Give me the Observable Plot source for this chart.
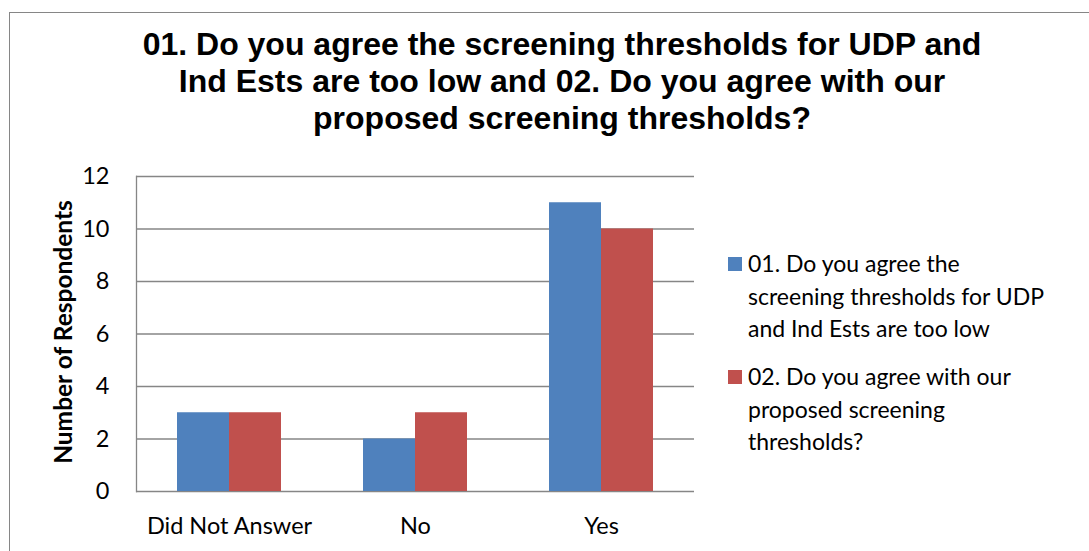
<!DOCTYPE html>
<html>
<head>
<meta charset="utf-8">
<script src="https://cdn.jsdelivr.net/npm/d3@7"></script>
<script src="https://cdn.jsdelivr.net/npm/@observablehq/plot@0.6"></script>
<style>
  html, body { margin: 0; padding: 0; background: #fff; }
  #chart { position: relative; width: 1089px; height: 551px; overflow: hidden; background: #fff; }
  #border { position: absolute; left: 9px; top: 12px; width: 1200px; height: 700px;
            border-top: 1px solid #868686; border-left: 1px solid #868686; }
  #title { position: absolute; left: 62px; width: 1000px; top: 26px; text-align: center;
           font-family: "Liberation Sans", Arial, sans-serif; font-weight: bold;
           font-size: 32px; line-height: 37px; color: #000; white-space: nowrap; }
  #plot { position: absolute; left: 0; top: 0; }
  #ylabel { position: absolute; left: 62px; top: 332px; transform: translate(-50%, -50%) rotate(-90deg);
            font-family: Lato, sans-serif; font-weight: bold; font-size: 24.5px; color: #000; white-space: nowrap; }
  .legend-item { position: absolute; left: 728px; font-family: Lato, sans-serif; font-size: 23px;
                 line-height: 32.5px; color: #000; white-space: nowrap; }
  .legend-item .swatch { position: absolute; left: 0; top: 10px; width: 14px; height: 14px; }
  .legend-item .text { margin-left: 20px; }
</style>
</head>
<body>
<div id="chart">
  <div id="border"></div>
  <div id="plot"></div>
  <div id="title"></div>
  <div id="ylabel"></div>
  <div id="legend"></div>
</div>
<script>
// Response categories on the x axis
const categories = ["Did Not Answer", "No", "Yes"];
// The two survey questions (series)
const seriesNames = [
  "01. Do you agree the screening thresholds for UDP and Ind Ests are too low",
  "02. Do you agree with our proposed screening thresholds?"
];
// Legend wording, split into its display lines
const legendLines = [
  ["01. Do you agree the", "screening thresholds for UDP", "and Ind Ests are too low"],
  ["02. Do you agree with our", "proposed screening", "thresholds?"]
];
// Respondent counts per category
const q01Counts = [3, 2, 11];
const q02Counts = [3, 3, 10];
// Y axis ticks
const yTicks = [0, 2, 4, 6, 8, 10, 12];
const seriesColors = ["#4F81BD", "#C0504D"];
const titleLines = [
  "01. Do you agree the screening thresholds for UDP and",
  "Ind Ests are too low and 02. Do you agree with our",
  "proposed screening thresholds?"
];
const yLabel = "Number of Respondents";

const rows = [];
categories.forEach((c, i) => {
  rows.push({category: c, series: seriesNames[0], value: q01Counts[i]});
  rows.push({category: c, series: seriesNames[1], value: q02Counts[i]});
});

const gridColor = "#868686";

const chart = Plot.plot({
  width: 1089,
  height: 551,
  marginTop: 176,
  marginBottom: 60,
  marginLeft: 135,
  marginRight: 395,
  style: {fontFamily: "Lato, sans-serif", fontSize: "23.5px", color: "#000", background: "transparent", overflow: "visible"},
  fx: {domain: categories, padding: 0, label: null},
  x: {domain: seriesNames, paddingInner: 0, paddingOuter: 0.757, axis: null},
  y: {domain: [0, 12], label: null},
  color: {domain: seriesNames, range: seriesColors},
  marks: [
    Plot.ruleY(yTicks, {stroke: gridColor, strokeWidth: 1.3}),
    Plot.barY(rows, {fx: "category", x: "series", y: "value", fill: "series"}),
    Plot.frame({anchor: "left", facetAnchor: "left", stroke: gridColor, strokeWidth: 1.3}),
    Plot.axisY({ticks: yTicks, tickSize: 0, tickPadding: 27, label: null, fill: "#000"}),
    Plot.axisFx({anchor: "bottom", tickSize: 0, tickPadding: 26, label: null, fill: "#000"})
  ]
});
document.getElementById("plot").appendChild(chart);

// Title
document.getElementById("title").innerHTML = titleLines.map(l => `<div>${l}</div>`).join("");
// Y axis title
document.getElementById("ylabel").textContent = yLabel;

// Legend
const legendTops = [247, 360];
const legend = document.getElementById("legend");
legendLines.forEach((lines, i) => {
  const item = document.createElement("div");
  item.className = "legend-item";
  item.style.top = legendTops[i] + "px";
  item.innerHTML = `<div class="swatch" style="background:${seriesColors[i]}"></div>` +
    `<div class="text">${lines.map(l => `<div>${l}</div>`).join("")}</div>`;
  legend.appendChild(item);
});
</script>
</body>
</html>
